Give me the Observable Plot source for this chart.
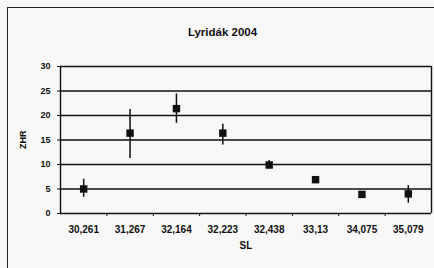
<!DOCTYPE html>
<html>
<head>
<meta charset="utf-8">
<script src="https://cdn.jsdelivr.net/npm/d3@7"></script>
<script src="https://cdn.jsdelivr.net/npm/@observablehq/plot@0.6"></script>
<style>
  html, body { margin: 0; padding: 0; background: #f8f8f8; }
  #wrap { position: relative; width: 434px; height: 268px; overflow: hidden; }
  #frame { position: absolute; left: 7px; top: 7px; width: 440px; height: 300px;
           border-left: 1.5px solid #222; border-top: 1.5px solid #222; pointer-events: none; }
  svg { font-family: "Liberation Sans", Arial, sans-serif; font-weight: bold; }
</style>
</head>
<body>
<div id="wrap"><div id="frame"></div></div>
<script>
const title = "Lyridák 2004";
const categories = ["30,261", "31,267", "32,164", "32,223", "32,438", "33,13", "34,075", "35,079"];
const zhr  = [5.0, 16.4, 21.4, 16.4, 9.9, 6.9, 3.9, 4.0];
const low  = [3.3, 11.2, 18.4, 14.0, 9.1, 6.9, 3.9, 2.1];
const high = [7.0, 21.2, 24.4, 18.2, 10.8, 6.9, 3.9, 5.7];
const yTicks = [0, 5, 10, 15, 20, 25, 30];
const gridLines = [5, 10, 15, 20, 25, 30];

const data = categories.map((c, i) => ({sl: c, pos: i + 0.5, zhr: zhr[i], low: low[i], high: high[i]}));
const boundaries = d3.range(1, categories.length);

const chart = Plot.plot({
  width: 434,
  height: 268,
  marginLeft: 60,
  marginRight: 3,
  marginTop: 66,
  marginBottom: 55,
  style: {background: "transparent", fontSize: "10px", color: "#111"},
  x: {domain: [0, categories.length]},
  y: {domain: [0, 30]},
  marks: [
    Plot.ruleY(gridLines, {stroke: "#111", strokeWidth: 1.4}),
    Plot.ruleX([0, categories.length], {stroke: "#111", strokeWidth: 1.4}),
    Plot.ruleY([0], {stroke: "#111", strokeWidth: 1.4}),
    Plot.axisY({ticks: yTicks, tickSize: 3, tickPadding: 7, label: null, fontSize: 9, fontWeight: "bold", stroke: "#111"}),
    Plot.axisX({ticks: boundaries, tickSize: 3, tickFormat: () => "", label: null}),
    Plot.axisX({ticks: data.map(d => d.pos), tickSize: 0, tickPadding: 12, tickFormat: (p) => categories[Math.floor(p)], label: null, fontSize: 10, fontWeight: "bold", style: {letterSpacing: "0.3px"}}),
    Plot.ruleX(data, {x: "pos", y1: "low", y2: "high", stroke: "#111", strokeWidth: 1.5}),
    Plot.dot(data, {x: "pos", y: "zhr", symbol: "square", r: 4.2, fill: "#111", stroke: "none"}),
    Plot.text([title], {frameAnchor: "top-left", dx: 162, dy: -39, text: d => d, textAnchor: "middle", fontSize: 11.5, fontWeight: "bold", style: {letterSpacing: "1px"}}),
    Plot.text(["ZHR"], {frameAnchor: "left", dx: -37, dy: 9, rotate: -90, text: d => d, fontSize: 9, fontWeight: "bold"}),
    Plot.text(["SL"], {frameAnchor: "bottom", dy: 35, text: d => d, fontSize: 10, fontWeight: "bold", style: {letterSpacing: "1px"}})
  ]
});
document.getElementById("wrap").prepend(chart);
chart.style.position = "absolute";
chart.style.left = "0";
chart.style.top = "0";
</script>
</body>
</html>
